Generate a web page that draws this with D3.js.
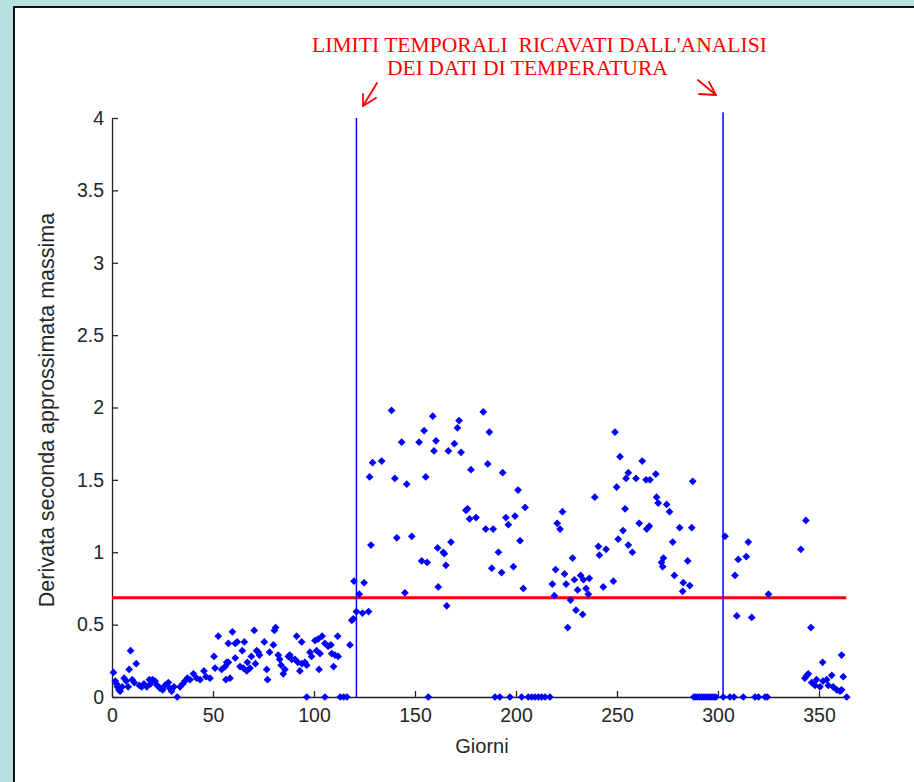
<!DOCTYPE html>
<html>
<head>
<meta charset="utf-8">
<script src="https://cdn.jsdelivr.net/npm/d3@7"></script>
<style>
  html, body { margin: 0; padding: 0; background: #b9dfe2; }
  svg { display: block; }
</style>
</head>
<body>
<svg id="chart" width="914" height="782"></svg>
<script>
// Giorno dell'anno e derivata seconda approssimata massima per ciascun punto
const giorni = [
  0.7, 1.6, 2.3, 2.7, 3.5, 4, 5, 6, 7, 8, 8.5, 9.2, 10, 11, 12, 13.5, 14.7, 15.8, 17.2, 18.5,
  19.1, 20.1, 21.3, 22.4, 23.8, 25.1, 26.2, 27.9, 28.7, 29.5, 30.7, 32.3, 33.7, 35, 36.1, 37.3, 38.6, 40.3, 41.9, 43.6,
  45.5, 46.5, 48.5, 50.5, 51, 52.6, 54.3, 56, 56.4, 56.8, 57.6, 57.6, 58.4, 59.6, 61, 61, 62, 63.4, 64.5, 65,
  65.5, 66.7, 67, 68.3, 69, 70.4, 71, 71.6, 72.4, 73, 75.4, 76.6, 77, 78, 79.9, 80.4, 81, 82.3, 83, 83.7,
  84.8, 85.6, 87.3, 88, 89, 90.6, 91.4, 92, 93, 93.9, 94, 95.5, 96.4, 96.4, 98, 98.8, 100.5, 101.3, 102, 102.5,
  103, 104, 105.4, 105.4, 107, 108.4, 108.8, 109.7, 110.4, 111.7, 112, 113, 114.7, 116.3, 117.8, 118.7, 119.5, 119.8, 121, 122.4,
  124, 124.8, 127, 127.5, 128.2, 129, 133.5, 138.4, 140, 141, 143.4, 145, 145.9, 148.4, 152, 153.3, 154.5, 155.3, 156, 156.6,
  158.8, 159.4, 160.4, 161.2, 161.5, 164, 164.5, 165.3, 165.7, 166.5, 167.8, 169.5, 171, 171.8, 172.8, 175.2, 176, 177, 177.7, 180.2,
  183.8, 185, 186, 186.8, 188, 188.7, 189.6, 191.3, 192, 192.9, 193.4, 195, 196.2, 197, 198.7, 199.5, 201, 202, 202.8, 203.6,
  204.5, 206.1, 207.8, 209.4, 211.1, 212.7, 214.4, 216.8, 218, 219, 219.6, 220.4, 221.8, 223, 224, 224.8, 225.6, 227, 228, 228.9,
  229.7, 230.5, 232, 233, 233.4, 234.7, 235.8, 236.3, 239, 240.8, 241.3, 243.2, 244.6, 248.2, 249, 249.8, 250.6, 251.5, 253, 254,
  254.5, 255.6, 255.6, 257.6, 259.4, 261, 262.5, 264.4, 264.7, 266, 266.3, 269.2, 269.6, 270.4, 272, 272.6, 273, 274.6, 276, 277.6,
  278.4, 281, 282.5, 282.8, 285, 286, 287, 287.5, 288, 289, 290, 291, 292, 293, 294, 295, 296, 297, 298, 299,
  302.6, 303.5, 305.9, 307.9, 308.4, 309.3, 310, 312.5, 314, 315, 316.7, 318.3, 320, 323.3, 324.4, 325, 341, 343, 343.5, 344,
  344.7, 346, 346.4, 348, 348.8, 350.5, 351.8, 352, 353.8, 354.6, 356.3, 357, 358.8, 360.4, 361.2, 361.2, 362, 363.7
];
const derivata = [
  0.17, 0.11, 0.09, 0.07, 0.05, 0.04, 0.07, 0.13, 0.11, 0.07, 0.19, 0.32, 0.12, 0.10, 0.23, 0.08, 0.07, 0.09, 0.07, 0.12,
  0.09, 0.12, 0.11, 0.08, 0.06, 0.05, 0.08, 0.10, 0.06, 0.04, 0.07, 0.00, 0.07, 0.09, 0.11, 0.13, 0.12, 0.16, 0.13, 0.12,
  0.18, 0.14, 0.13, 0.28, 0.20, 0.42, 0.19, 0.21, 0.12, 0.24, 0.24, 0.37, 0.13, 0.45, 0.37, 0.27, 0.38, 0.21, 0.32, 0.20,
  0.38, 0.18, 0.24, 0.20, 0.28, 0.46, 0.23, 0.32, 0.31, 0.29, 0.38, 0.19, 0.12, 0.31, 0.36, 0.46, 0.48, 0.29, 0.26, 0.22,
  0.16, 0.19, 0.28, 0.29, 0.26, 0.26, 0.42, 0.24, 0.18, 0.38, 0.23, 0.24, 0.22, 0.00, 0.31, 0.28, 0.39, 0.32, 0.40, 0.19,
  0.30, 0.42, 0.37, 0.00, 0.35, 0.36, 0.30, 0.21, 0.29, 0.42, 0.28, 0.00, 0.00, 0.00, 0.36, 0.53, 0.54, 0.80, 0.59, 0.71,
  0.58, 0.79, 0.59, 1.52, 1.05, 1.62, 1.63, 1.98, 1.51, 1.10, 1.76, 0.72, 1.47, 1.11, 1.76, 0.94, 1.84, 1.52, 0.93, 0.00,
  1.94, 1.70, 1.77, 1.03, 0.76, 1.00, 0.99, 0.91, 0.63, 1.70, 1.07, 1.75, 1.86, 1.91, 1.69, 1.29, 1.30, 1.23, 1.57, 1.24,
  1.97, 1.16, 1.61, 1.83, 0.89, 1.16, 0.00, 1.00, 0.00, 0.86, 1.55, 1.24, 1.19, 0.00, 0.90, 1.25, 1.43, 1.08, 0.00, 0.75,
  1.31, 0.00, 0.00, 0.00, 0.00, 0.00, 0.00, 0.00, 0.78, 0.70, 0.88, 1.20, 1.16, 1.28, 0.85, 0.78, 0.48, 0.67, 0.96, 0.81,
  0.60, 0.74, 0.84, 0.57, 0.81, 0.75, 0.71, 0.82, 1.38, 1.04, 0.98, 0.76, 1.02, 0.80, 1.83, 1.45, 1.09, 1.66, 1.15, 1.30,
  1.51, 1.55, 1.05, 1.00, 1.51, 1.20, 1.63, 1.50, 1.16, 1.18, 1.50, 1.54, 1.38, 1.34, 0.93, 0.90, 0.96, 1.33, 1.28, 1.07,
  0.84, 1.17, 0.73, 0.79, 0.94, 0.77, 1.17, 1.49, 0.00, 0.00, 0.00, 0.00, 0.00, 0.00, 0.00, 0.00, 0.00, 0.00, 0.00, 0.00,
  0.00, 1.11, 0.00, 0.00, 0.84, 0.56, 0.95, 0.00, 0.97, 1.07, 0.55, 0.00, 0.00, 0.00, 0.00, 0.71, 1.02, 0.13, 1.22, 0.15,
  0.16, 0.48, 0.10, 0.08, 0.12, 0.07, 0.24, 0.11, 0.12, 0.08, 0.15, 0.07, 0.05, 0.04, 0.29, 0.05, 0.14, 0.00
];

// Limiti temporali ricavati dai dati di temperatura e soglia orizzontale
const limitiGiorni = [121, 302.5];
const limitiAltezza = [4, 4.04];
const soglia = 0.685;

const xTicks = [0, 50, 100, 150, 200, 250, 300, 350];
const yTicks = [0, 0.5, 1, 1.5, 2, 2.5, 3, 3.5, 4];

const titolo = ["LIMITI TEMPORALI  RICAVATI DALL'ANALISI", "DEI DATI DI TEMPERATURA"];
const xLabel = "Giorni";
const yLabel = "Derivata seconda approssimata massima";

const svg = d3.select("#chart");

// Pannello bianco della figura
svg.append("rect")
  .attr("x", 14).attr("y", 7).attr("width", 920).attr("height", 800)
  .attr("fill", "#ffffff").attr("stroke", "#111").attr("stroke-width", 2);

const x = d3.scaleLinear().domain([0, 365]).range([112, 849.3]);
const y = d3.scaleLinear().domain([0, 4]).range([697, 118]);

// Assi (solo sinistro e inferiore, tacche verso l'interno)
const axisColor = "#222";
const fontSans = "'Liberation Sans', Arial, sans-serif";
const xAxis = svg.append("g")
  .attr("transform", `translate(0,${y(0)})`)
  .call(d3.axisBottom(x).tickValues(xTicks).tickSizeInner(-6).tickSizeOuter(0).tickPadding(10).tickFormat(d3.format("d")));
const yAxis = svg.append("g")
  .attr("transform", `translate(${x(0)},0)`)
  .call(d3.axisLeft(y).tickValues(yTicks).tickSizeInner(-6).tickSizeOuter(0).tickPadding(8).tickFormat(d => String(d)));

[xAxis, yAxis].forEach(g => {
  g.select(".domain").attr("stroke", axisColor).attr("stroke-width", 1.3);
  g.selectAll(".tick line").attr("stroke", axisColor).attr("stroke-width", 1.3);
  g.selectAll(".tick text")
    .attr("fill", "#262626")
    .style("font-family", fontSans)
    .style("font-size", "19.5px");
});
xAxis.selectAll(".tick text").attr("dy", "0.75em");

// Soglia
svg.append("line")
  .attr("x1", x(0)).attr("x2", x(363.5))
  .attr("y1", y(soglia)).attr("y2", y(soglia))
  .attr("stroke", "#ff0000").attr("stroke-width", 3);

// Linee verticali dei limiti temporali
svg.selectAll("line.limite")
  .data(limitiGiorni)
  .join("line")
  .attr("class", "limite")
  .attr("x1", d => x(d)).attr("x2", d => x(d))
  .attr("y1", y(0)).attr("y2", (d, i) => y(limitiAltezza[i]))
  .attr("stroke", "#0000ff").attr("stroke-width", 1.5);

// Punti
const punti = giorni.map((g, i) => ({ g, v: derivata[i] }));
const rombo = d3.symbol().type(d3.symbolSquare).size(30);
svg.append("g")
  .selectAll("path")
  .data(punti)
  .join("path")
  .attr("d", rombo)
  .attr("transform", d => `translate(${x(d.g)},${y(d.v)}) rotate(45)`)
  .attr("fill", "#0000ff");

// Etichette degli assi
svg.append("text")
  .attr("x", 482).attr("y", 753)
  .attr("text-anchor", "middle")
  .attr("fill", "#262626")
  .style("font-family", fontSans)
  .style("font-size", "20px")
  .text(xLabel);

svg.append("text")
  .attr("transform", "translate(54,410) rotate(-90)")
  .attr("text-anchor", "middle")
  .attr("fill", "#262626")
  .style("font-family", fontSans)
  .style("font-size", "21.5px")
  .text(yLabel);

// Annotazione in rosso
const titoloX = [312, 387];
const titoloY = [52, 75];
svg.selectAll("text.titolo")
  .data(titolo)
  .join("text")
  .attr("class", "titolo")
  .attr("x", (d, i) => titoloX[i])
  .attr("y", (d, i) => titoloY[i])
  .attr("fill", "#ff0000")
  .style("white-space", "pre")
  .style("font-family", "'Liberation Serif', 'Times New Roman', serif")
  .style("font-size", "21.6px")
  .text(d => d);

// Frecce disegnate a mano verso i due limiti
const freccia = d3.line();
const arrowStyle = sel => sel.attr("fill", "none").attr("stroke", "#ff0000").attr("stroke-width", 1.8)
  .attr("stroke-linecap", "round").attr("stroke-linejoin", "round");
svg.append("path").attr("d", freccia([[377, 83], [363, 106]])).call(arrowStyle);
svg.append("path").attr("d", freccia([[363, 94], [363, 106], [376, 98]])).call(arrowStyle);
svg.append("path").attr("d", freccia([[698, 80], [716, 95]])).call(arrowStyle);
svg.append("path").attr("d", freccia([[699, 94], [716, 95], [709, 82]])).call(arrowStyle);
</script>
</body>
</html>
